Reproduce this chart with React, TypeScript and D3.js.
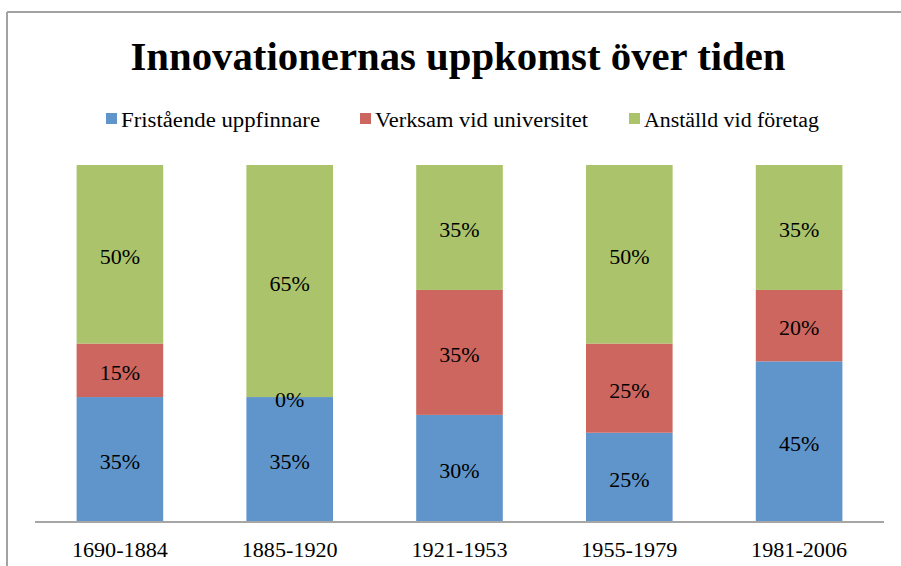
import React from "react";
import * as d3 from "d3";

// Periods along the x axis
const periods = ["1690-1884", "1885-1920", "1921-1953", "1955-1979", "1981-2006"];

// Share per category, in percent
const fristaende = [35, 35, 30, 25, 45];
const universitet = [15, 0, 35, 25, 20];
const foretag = [50, 65, 35, 50, 35];

const seriesNames = ["Fristående uppfinnare", "Verksam vid universitet", "Anställd vid företag"];
const seriesColors = ["#5f95cb", "#cc665f", "#abc46c"];

const W = 901;
const H = 566;
const FONT = "'Liberation Serif', 'Times New Roman', serif";

export default function App() {
  const rows = periods.map((p, i) => ({
    period: p,
    [seriesNames[0]]: fristaende[i],
    [seriesNames[1]]: universitet[i],
    [seriesNames[2]]: foretag[i],
  }));

  const stacked = d3.stack<any>().keys(seriesNames)(rows);

  const x = d3.scaleBand<string>()
    .domain(periods)
    .range([35, 884])
    .paddingInner(0.49)
    .paddingOuter(0.245);

  const y = d3.scaleLinear().domain([0, 100]).range([522, 165]);

  // legend placement (square x, text width)
  const legendItems = [
    { sx: 106, tw: 199 },
    { sx: 360, tw: 213 },
    { sx: 629, tw: 175 },
  ];

  return (
    <div style={{ position: "fixed", left: 0, top: 0 }}>
      <svg width={W} height={H} style={{ display: "block", background: "#fff" }}>
        {/* chart frame */}
        <line x1={7} y1={12} x2={W} y2={12} stroke="#a3a3a3" strokeWidth={2} />
        <line x1={7} y1={12} x2={7} y2={H} stroke="#a3a3a3" strokeWidth={2} />

        <text
          x={458}
          y={70}
          textAnchor="middle"
          fontFamily={FONT}
          fontWeight="bold"
          fontSize={41}
          textLength={655}
          lengthAdjust="spacingAndGlyphs"
          fill="#000"
        >
          Innovationernas uppkomst över tiden
        </text>

        {seriesNames.map((name, i) => (
          <g key={name}>
            <rect x={legendItems[i].sx} y={113} width={11} height={11} fill={seriesColors[i]} />
            <text
              x={legendItems[i].sx + 15}
              y={127}
              fontFamily={FONT}
              fontSize={20}
              textLength={legendItems[i].tw}
              lengthAdjust="spacingAndGlyphs"
              fill="#000"
            >
              {name}
            </text>
          </g>
        ))}

        {stacked.map((layer, si) => (
          <g key={layer.key} fill={seriesColors[si]}>
            {layer.map((d, i) => (
              <rect
                key={periods[i]}
                x={x(periods[i])}
                y={y(d[1])}
                width={x.bandwidth()}
                height={y(d[0]) - y(d[1])}
              />
            ))}
          </g>
        ))}

        {stacked.map((layer) => (
          <g key={layer.key + "-lbl"}>
            {layer.map((d, i) => (
              <text
                key={periods[i]}
                x={(x(periods[i]) as number) + x.bandwidth() / 2}
                y={(y(d[0]) + y(d[1])) / 2 + 2}
                dy="0.35em"
                textAnchor="middle"
                fontFamily={FONT}
                fontSize={22}
                fill="#000"
              >
                {d[1] - d[0]}%
              </text>
            ))}
          </g>
        ))}

        <line x1={35} y1={522} x2={884} y2={522} stroke="#a6a6a6" strokeWidth={2} />

        {periods.map((p) => (
          <text
            key={p}
            x={(x(p) as number) + x.bandwidth() / 2}
            y={557}
            textAnchor="middle"
            fontFamily={FONT}
            fontSize={22}
            textLength={96}
            lengthAdjust="spacingAndGlyphs"
            fill="#000"
          >
            {p}
          </text>
        ))}
      </svg>
    </div>
  );
}
